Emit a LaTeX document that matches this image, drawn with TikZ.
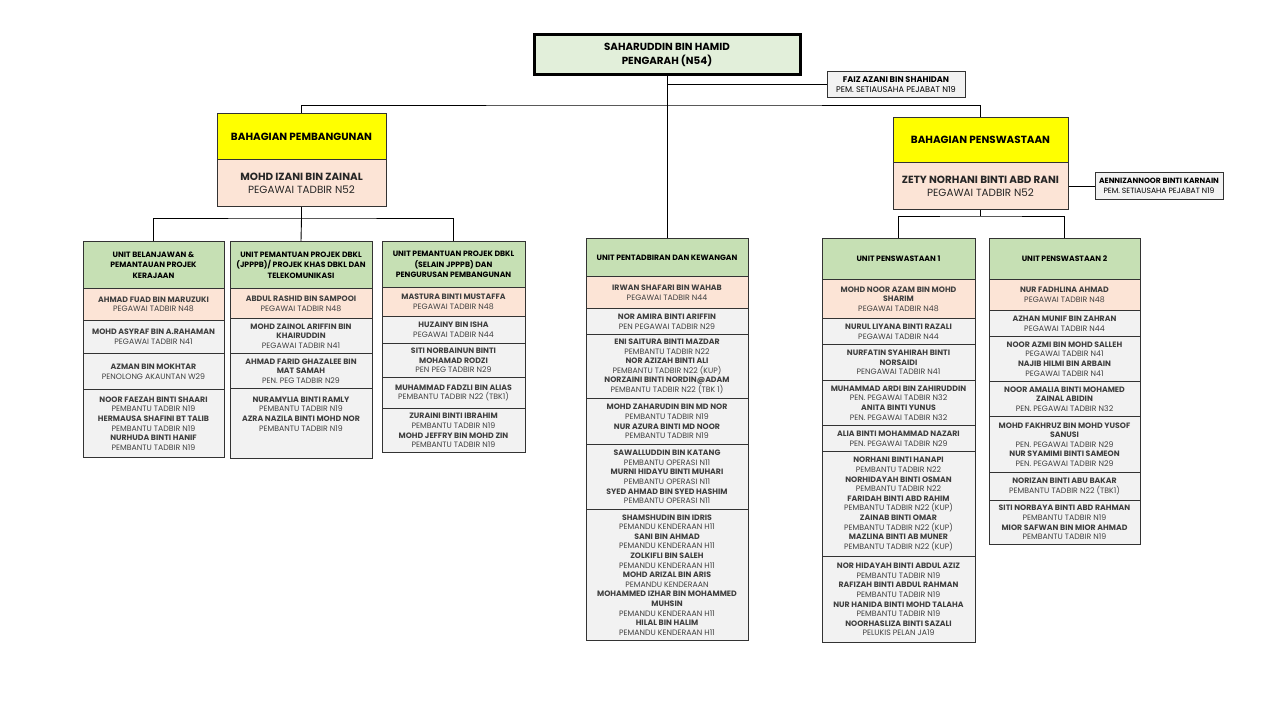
\documentclass[tikz,border=0pt]{standalone}
\usepackage{fontspec}
\setmainfont{Poppins}
\usepackage{tikz}
\usetikzlibrary{positioning}
\definecolor{headgreen}{HTML}{E2EFDA}
\definecolor{unitgreen}{HTML}{C6E0B4}
\definecolor{ketuapink}{HTML}{FCE4D6}
\definecolor{stafgrey}{HTML}{F2F2F2}
\definecolor{bhgyellow}{HTML}{FFFF00}
\tikzset{
    cellbase/.style = {rectangle, draw=black!80, line width=1pt, anchor=north, align=center, inner sep=1pt, text=black!75, font=\fontsize{7.8}{9.6}\selectfont},
    unithdr/.style = {cellbase, fill=unitgreen, text=black, font=\bfseries\fontsize{7.7}{10.5}\selectfont},
    ketua/.style = {cellbase, fill=ketuapink},
    staf/.style = {cellbase, fill=stafgrey},
    pengarah/.style = {rectangle, draw=black, line width=3pt, anchor=north, align=center, fill=headgreen, font=\bfseries\fontsize{10.3}{14}\selectfont, minimum width=266, minimum height=40},
    bhg/.style = {rectangle, draw=black!80, line width=1pt, anchor=north, align=center, fill=bhgyellow, font=\bfseries\fontsize{10.4}{12}\selectfont},
    bhgketua/.style = {rectangle, draw=black!80, line width=1pt, anchor=north, align=center, fill=ketuapink, text=black!85, font=\fontsize{10.4}{13}\selectfont},
    setia/.style = {rectangle, draw=black!80, line width=1pt, anchor=north, align=center, fill=stafgrey, inner sep=1pt},
    colA/.style = {minimum width=141},
    colB/.style = {minimum width=142},
    colC/.style = {minimum width=143},
    colD/.style = {minimum width=162},
    colE/.style = {minimum width=153},
    colF/.style = {minimum width=151},
    link/.style = {draw=black, line width=0.9pt},
}
\begin{document}
\begin{tikzpicture}[x=1pt,y=-1pt]
\useasboundingbox[fill=white] (0,0) rectangle (1280,720);
%
\node[pengarah] at (667,33) (ptr) {SAHARUDDIN BIN HAMID\\PENGARAH (N54)};
\node[setia, minimum width=138, minimum height=26, font=\fontsize{8.2}{9.8}\selectfont] at (896,71) (faiz) {\textbf{FAIZ AZANI BIN SHAHIDAN}\\PEM. SETIAUSAHA PEJABAT N19};
%
\node[bhg, minimum width=169, minimum height=46] at (301.5,113) (bpb) {BAHAGIAN PEMBANGUNAN};
\node[bhgketua, minimum width=169, minimum height=47] at (301.5,159) (kpb) {\textbf{MOHD IZANI BIN ZAINAL}\\PEGAWAI TADBIR N52};
\node[bhg, minimum width=175, minimum height=45] at (980.5,117) (bps) {BAHAGIAN PENSWASTAAN};
\node[bhgketua, minimum width=175, minimum height=47] at (980.5,162) (kps) {\textbf{ZETY NORHANI BINTI ABD RANI}\\PEGAWAI TADBIR N52};
\node[setia, minimum width=128, minimum height=27, font=\fontsize{7.6}{9.4}\selectfont] at (1159,172) (aenn) {\textbf{AENNIZANNOOR BINTI KARNAIN}\\PEM. SETIAUSAHA PEJABAT N19};
%
% unit belanjawan
\node[unithdr, colA, minimum height=47] at (153.5,241) (ua) {UNIT BELANJAWAN \&\\PEMANTAUAN PROJEK\\KERAJAAN};
\node[ketua, colA, minimum height=32] at (153.5,288) (ua1) {\textbf{AHMAD FUAD BIN MARUZUKI}\\PEGAWAI TADBIR N48};
\node[staf, colA, minimum height=33] at (153.5,320) (ua2) {\textbf{MOHD ASYRAF BIN A.RAHAMAN}\\PEGAWAI TADBIR N41};
\node[staf, colA, minimum height=36] at (153.5,353) (ua3) {\textbf{AZMAN BIN MOKHTAR}\\PENOLONG AKAUNTAN W29};
\node[staf, colA, minimum height=68] at (153.5,389) (ua4) {\textbf{NOOR FAEZAH BINTI SHAARI}\\PEMBANTU TADBIR N19\\\textbf{HERMAUSA SHAFINI BT TALIB}\\PEMBANTU TADBIR N19\\\textbf{NURHUDA BINTI HANIF}\\PEMBANTU TADBIR N19};
% unit jpppb
\node[unithdr, colB, minimum height=47] at (301,241) (ub) {UNIT PEMANTUAN PROJEK DBKL\\(JPPPB)/ PROJEK KHAS DBKL DAN\\TELEKOMUNIKASI};
\node[ketua, colB, minimum height=30] at (301,288) (ub1) {\textbf{ABDUL RASHID BIN SAMPOOI}\\PEGAWAI TADBIR N48};
\node[staf, colB, minimum height=35] at (301,318) (ub2) {\textbf{MOHD ZAINOL ARIFFIN BIN}\\\textbf{KHAIRUDDIN}\\PEGAWAI TADBIR N41};
\node[staf, colB, minimum height=35] at (301,353) (ub3) {\textbf{AHMAD FARID GHAZALEE BIN}\\\textbf{MAT SAMAH}\\PEN. PEG TADBIR N29};
\node[staf, colB, minimum height=70] at (301,388) (ub4) {\textbf{NURAMYLIA BINTI RAMLY}\\PEMBANTU TADBIR N19\\\textbf{AZRA NAZILA BINTI MOHD NOR}\\PEMBANTU TADBIR N19\\~\\~};
% unit selain jpppb
\node[unithdr, colC, minimum height=46] at (453.5,241) (uc) {UNIT PEMANTUAN PROJEK DBKL\\(SELAIN JPPPB) DAN\\PENGURUSAN PEMBANGUNAN};
\node[ketua, colC, minimum height=29] at (453.5,287) (uc1) {\textbf{MASTURA BINTI MUSTAFFA}\\PEGAWAI TADBIR N48};
\node[staf, colC, minimum height=27] at (453.5,316) (uc2) {\textbf{HUZAINY BIN ISHA}\\PEGAWAI TADBIR N44};
\node[staf, colC, minimum height=34] at (453.5,343) (uc3) {\textbf{SITI NORBAINUN BINTI}\\\textbf{MOHAMAD RODZI}\\PEN PEG TADBIR N29};
\node[staf, colC, minimum height=31] at (453.5,377) (uc4) {\textbf{MUHAMMAD FADZLI BIN ALIAS}\\PEMBANTU TADBIR N22 (TBK1)};
\node[staf, colC, minimum height=44] at (453.5,408) (uc5) {\textbf{ZURAINI BINTI IBRAHIM}\\PEMBANTU TADBIR N19\\\textbf{MOHD JEFFRY BIN MOHD ZIN}\\PEMBANTU TADBIR N19};
% unit pentadbiran
\node[unithdr, colD, minimum height=38] at (667,238) (ud) {UNIT PENTADBIRAN DAN KEWANGAN};
\node[ketua, colD, minimum height=32] at (667,276) (ud1) {\textbf{IRWAN SHAFARI BIN WAHAB}\\PEGAWAI TADBIR N44};
\node[staf, colD, minimum height=26] at (667,308) (ud2) {\textbf{NOR AMIRA BINTI ARIFFIN}\\PEN PEGAWAI TADBIR N29};
\node[staf, colD, minimum height=64] at (667,334) (ud3) {\textbf{ENI SAITURA BINTI MAZDAR}\\PEMBANTU TADBIR N22\\\textbf{NOR AZIZAH BINTI ALI}\\PEMBANTU TADBIR N22 (KUP)\\\textbf{NORZAINI BINTI NORDIN@ADAM}\\PEMBANTU TADBIR N22 (TBK 1)};
\node[staf, colD, minimum height=46] at (667,398) (ud4) {\textbf{MOHD ZAHARUDIN BIN MD NOR}\\PEMBANTU TADBIR N19\\\textbf{NUR AZURA BINTI MD NOOR}\\PEMBANTU TADBIR N19};
\node[staf, colD, minimum height=65] at (667,444) (ud5) {\textbf{SAWALLUDDIN BIN KATANG}\\PEMBANTU OPERASI N11\\\textbf{MURNI HIDAYU BINTI MUHARI}\\PEMBANTU OPERASI N11\\\textbf{SYED AHMAD BIN SYED HASHIM}\\PEMBANTU OPERASI N11};
\node[staf, colD, minimum height=131] at (667,509) (ud6) {\textbf{SHAMSHUDIN BIN IDRIS}\\PEMANDU KENDERAAN H11\\\textbf{SANI BIN AHMAD}\\PEMANDU KENDERAAN H11\\\textbf{ZOLKIFLI BIN SALEH}\\PEMANDU KENDERAAN H11\\\textbf{MOHD ARIZAL BIN ARIS}\\PEMANDU KENDERAAN\\\textbf{MOHAMMED IZHAR BIN MOHAMMED}\\\textbf{MUHSIN}\\PEMANDU KENDERAAN H11\\\textbf{HILAL BIN HALIM}\\PEMANDU KENDERAAN H11};
% unit penswastaan 1
\node[unithdr, colE, minimum height=41] at (898.5,238) (ue) {UNIT PENSWASTAAN 1};
\node[ketua, colE, minimum height=39] at (898.5,279) (ue1) {\textbf{MOHD NOOR AZAM BIN MOHD}\\\textbf{SHARIM}\\PEGAWAI TADBIR N48};
\node[staf, colE, minimum height=26] at (898.5,318) (ue2) {\textbf{NURUL LIYANA BINTI RAZALI}\\PEGAWAI TADBIR N44};
\node[staf, colE, minimum height=36] at (898.5,344) (ue3) {\textbf{NURFATIN SYAHIRAH BINTI}\\\textbf{NORSAIDI}\\PENGAWAI TADBIR N41};
\node[staf, colE, minimum height=45] at (898.5,380) (ue4) {\textbf{MUHAMMAD ARDI BIN ZAHIRUDDIN}\\PEN. PEGAWAI TADBIR N32\\\textbf{ANITA BINTI YUNUS}\\PEN. PEGAWAI TADBIR N32};
\node[staf, colE, minimum height=26] at (898.5,425) (ue5) {\textbf{ALIA BINTI MOHAMMAD NAZARI}\\PEN. PEGAWAI TADBIR N29};
\node[staf, colE, minimum height=105] at (898.5,451) (ue6) {\textbf{NORHANI BINTI HANAPI}\\PEMBANTU TADBIR N22\\\textbf{NORHIDAYAH BINTI OSMAN}\\PEMBANTU TADBIR N22\\\textbf{FARIDAH BINTI ABD RAHIM}\\PEMBANTU TADBIR N22 (KUP)\\\textbf{ZAINAB BINTI OMAR}\\PEMBANTU TADBIR N22 (KUP)\\\textbf{MAZLINA BINTI AB MUNER}\\PEMBANTU TADBIR N22 (KUP)};
\node[staf, colE, minimum height=86] at (898.5,556) (ue7) {\textbf{NOR HIDAYAH BINTI ABDUL AZIZ}\\PEMBANTU TADBIR N19\\\textbf{RAFIZAH BINTI ABDUL RAHMAN}\\PEMBANTU TADBIR N19\\\textbf{NUR HANIDA BINTI MOHD TALAHA}\\PEMBANTU TADBIR N19\\\textbf{NOORHASLIZA BINTI SAZALI}\\PELUKIS PELAN JA19};
% unit penswastaan 2
\node[unithdr, colF, minimum height=41] at (1064.5,238) (uf) {UNIT PENSWASTAAN 2};
\node[ketua, colF, minimum height=31] at (1064.5,279) (uf1) {\textbf{NUR FADHLINA AHMAD}\\PEGAWAI TADBIR N48};
\node[staf, colF, minimum height=26] at (1064.5,310) (uf2) {\textbf{AZHAN MUNIF BIN ZAHRAN}\\PEGAWAI TADBIR N44};
\node[staf, colF, minimum height=45] at (1064.5,336) (uf3) {\textbf{NOOR AZMI BIN MOHD SALLEH}\\PEGAWAI TADBIR N41\\\textbf{NAJIB HILMI BIN ARBAIN}\\PEGAWAI TADBIR N41};
\node[staf, colF, minimum height=35] at (1064.5,381) (uf4) {\textbf{NOOR AMALIA BINTI MOHAMED}\\\textbf{ZAINAL ABIDIN}\\PEN. PEGAWAI TADBIR N32};
\node[staf, colF, minimum height=56] at (1064.5,416) (uf5) {\textbf{MOHD FAKHRUZ BIN MOHD YUSOF}\\\textbf{SANUSI}\\PEN. PEGAWAI TADBIR N29\\\textbf{NUR SYAMIMI BINTI SAMEON}\\PEN. PEGAWAI TADBIR N29};
\node[staf, colF, minimum height=28] at (1064.5,472) (uf6) {\textbf{NORIZAN BINTI ABU BAKAR}\\PEMBANTU TADBIR N22 (TBK1)};
\node[staf, colF, minimum height=44] at (1064.5,500) (uf7) {\textbf{SITI NORBAYA BINTI ABD RAHMAN}\\PEMBANTU TADBIR N19\\\textbf{MIOR SAFWAN BIN MIOR AHMAD}\\PEMBANTU TADBIR N19};
%
\coordinate (busT) at (667,105);
\coordinate (busL) at (301.5,218);
\coordinate (busR) at (980.5,216);
%
\draw[link] (ptr.south) -- (ud.north);
\draw[link] (ptr.south |- faiz.west) -- (faiz.west);
\draw[link] (bpb.north) |- (busT) -| (bps.north);
\draw[link] (kpb.south) -- (busL);
\draw[link] (ua.north) |- (busL) -| (uc.north);
\draw[link] (busL) -- (ub.north);
\draw[link] (kps.south) -- (busR);
\draw[link] (ue.north) |- (busR) -| (uf.north);
\draw[link] (kps.east) -- (aenn.west);
\end{tikzpicture}
\end{document}
